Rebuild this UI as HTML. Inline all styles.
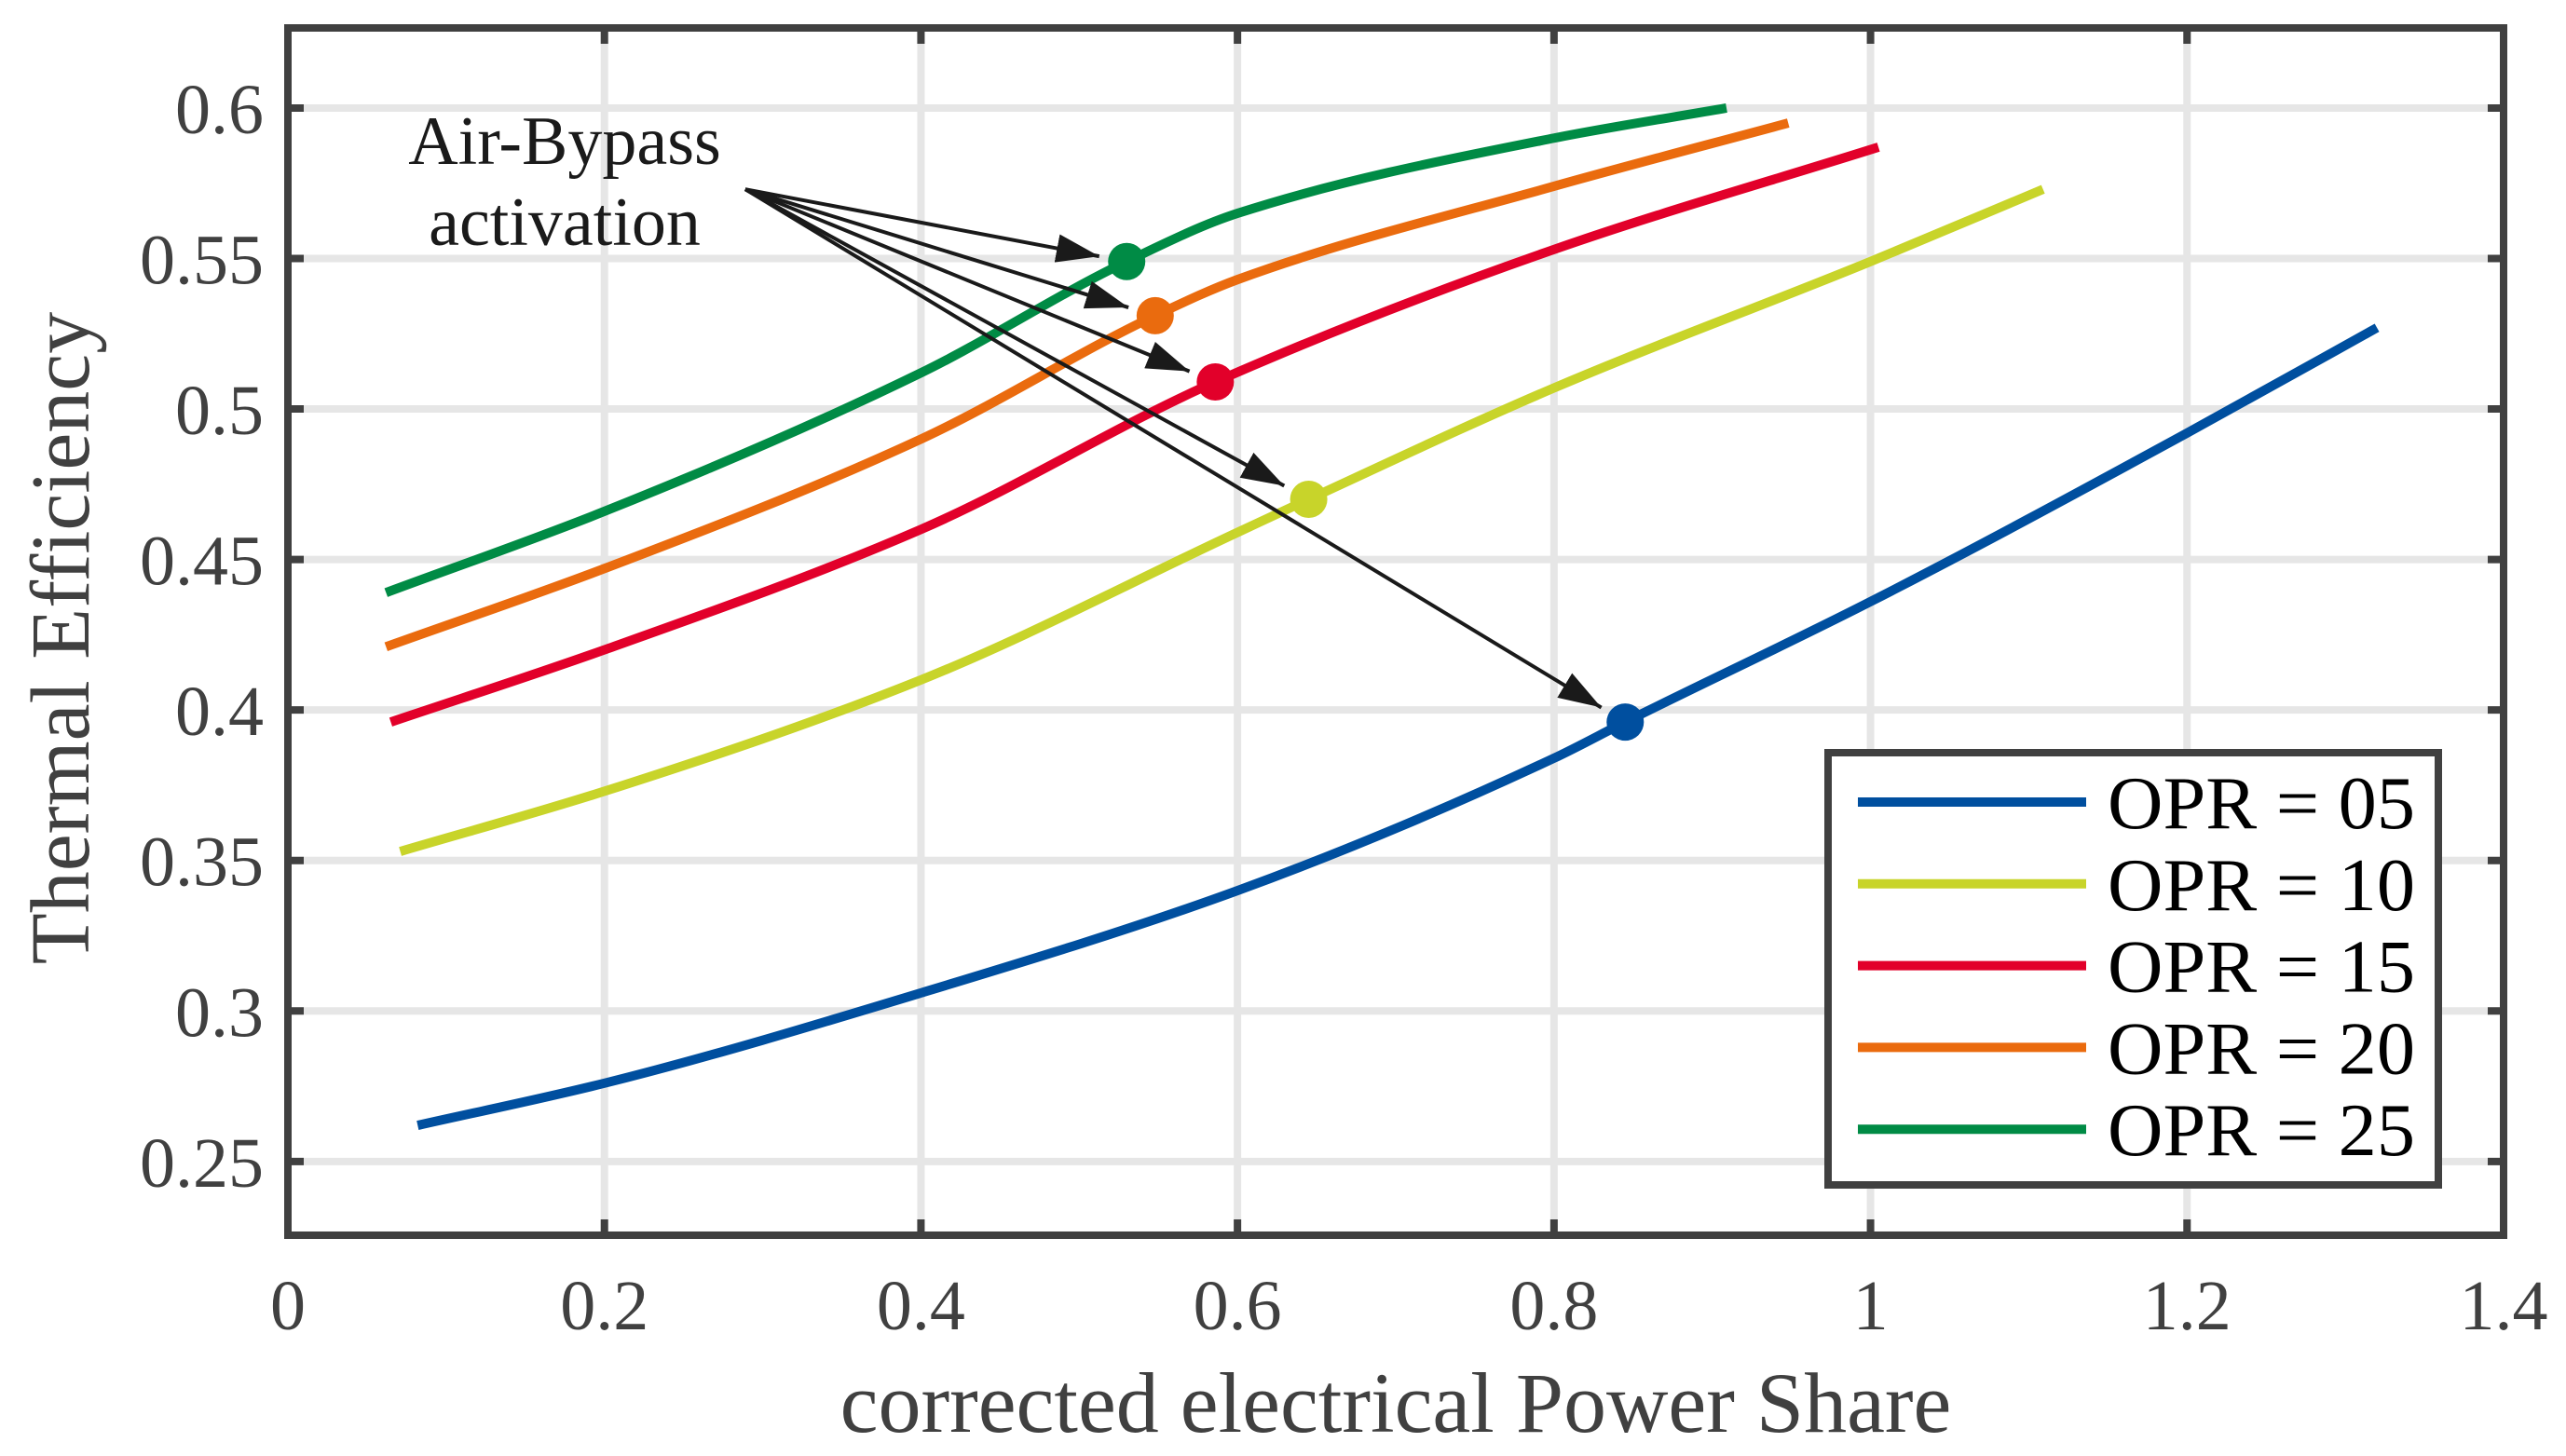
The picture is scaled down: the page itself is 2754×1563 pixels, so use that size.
<!DOCTYPE html>
<html><head><meta charset="utf-8"><style>
html,body{margin:0;padding:0;background:#fff}
svg{display:block}
text{font-family:"Liberation Serif",serif}
</style></head><body>
<svg id="chart" width="2754" height="1563" viewBox="0 0 2754 1563" xmlns="http://www.w3.org/2000/svg">
<g id="grid"></g>
<g id="series"></g>
<g id="arrows"></g>
<g id="axes"></g>
<g id="legend"></g>
<text x="606" y="176" font-size="74" text-anchor="middle" fill="#1a1a1a">Air-Bypass</text>
<text x="606" y="263" font-size="74" text-anchor="middle" fill="#1a1a1a">activation</text>
<text x="1498" y="1537" font-size="92" text-anchor="middle" fill="#404040">corrected electrical Power Share</text>
<text transform="translate(95,685) rotate(-90)" font-size="90" text-anchor="middle" fill="#404040">Thermal Efficiency</text>
</svg>
<script>
const xTicks = [0, 0.2, 0.4, 0.6, 0.8, 1, 1.2, 1.4];
const xTickLabels = ["0", "0.2", "0.4", "0.6", "0.8", "1", "1.2", "1.4"];
const yTicks = [0.25, 0.3, 0.35, 0.4, 0.45, 0.5, 0.55, 0.6];
const yTickLabels = ["0.25", "0.3", "0.35", "0.4", "0.45", "0.5", "0.55", "0.6"];
const seriesNames = ["OPR = 05", "OPR = 10", "OPR = 15", "OPR = 20", "OPR = 25"];
const seriesColors = ["#004f9f", "#c8d42a", "#e2002a", "#ea6b0e", "#008b45"];
const x05 = [0.082, 0.2, 0.4, 0.6, 0.8, 0.845, 1.0, 1.2, 1.32];
const y05 = [0.262, 0.276, 0.306, 0.340, 0.384, 0.396, 0.436, 0.492, 0.527];
const x10 = [0.071, 0.2, 0.4, 0.6, 0.645, 0.8, 1.0, 1.109];
const y10 = [0.353, 0.373, 0.41, 0.459, 0.470, 0.507, 0.549, 0.573];
const x15 = [0.065, 0.2, 0.4, 0.586, 0.8, 1.005];
const y15 = [0.396, 0.42, 0.46, 0.509, 0.553, 0.587];
const x20 = [0.062, 0.2, 0.4, 0.548, 0.6, 0.8, 0.948];
const y20 = [0.421, 0.447, 0.49, 0.531, 0.543, 0.574, 0.595];
const x25 = [0.062, 0.2, 0.4, 0.530, 0.6, 0.8, 0.909];
const y25 = [0.439, 0.466, 0.512, 0.549, 0.565, 0.590, 0.6];
const markerX = [0.845, 0.645, 0.586, 0.548, 0.530];
const markerY = [0.396, 0.470, 0.509, 0.531, 0.549];
const annotX = 0.289, annotY = 0.573;

const L=309,R=2687,T=30,B=1326;
const xMin=0,xMax=1.4,yMin=0.2255,yMax=0.6266;
const sx=v=>L+(v-xMin)/(xMax-xMin)*(R-L);
const sy=v=>B-(v-yMin)/(yMax-yMin)*(B-T);
const NS="http://www.w3.org/2000/svg";
function mk(tag,parent,attrs){const e=document.createElementNS(NS,tag);for(const k in attrs)e.setAttribute(k,attrs[k]);parent.appendChild(e);return e;}
const grid=document.getElementById('grid'),axes=document.getElementById('axes'),ser=document.getElementById('series'),arr=document.getElementById('arrows'),leg=document.getElementById('legend');
xTicks.forEach((t,i)=>{
  const g=mk('line',grid,{x1:sx(t),x2:sx(t),y1:T,y2:B,stroke:'#e6e6e6','stroke-width':8});
  
  
  const a=mk('line',axes,{x1:sx(t),x2:sx(t),y1:B,y2:B-17,stroke:'#404040','stroke-width':8});
  
  
  const a2=mk('line',axes,{x1:sx(t),x2:sx(t),y1:T,y2:T+17,stroke:'#404040','stroke-width':8});
  
  
  const tx=mk('text',axes,{x:sx(t),y:1427,'font-size':76,'text-anchor':'middle',fill:'#404040'});
  tx.textContent=xTickLabels[i];
  
  
});
yTicks.forEach((t,i)=>{
  const g=mk('line',grid,{x1:L,x2:R,y1:sy(t),y2:sy(t),stroke:'#e6e6e6','stroke-width':8});
  
  
  const a=mk('line',axes,{x1:L,x2:L+17,y1:sy(t),y2:sy(t),stroke:'#404040','stroke-width':8});
  
  
  const a2=mk('line',axes,{x1:R,x2:R-17,y1:sy(t),y2:sy(t),stroke:'#404040','stroke-width':8});
  
  
  const tx=mk('text',axes,{x:L-26,y:sy(t)+27,'font-size':76,'text-anchor':'end',fill:'#404040'});
  tx.textContent=yTickLabels[i];
  
  
});
const frame=mk('rect',axes,{x:L,y:T,width:R-L,height:B-T,fill:'none',stroke:'#404040','stroke-width':8});


// monotone cubic (Fritsch-Carlson) in x
function monotone(xs,ys){
  const n=xs.length,d=[],m=new Array(n);
  for(let i=0;i<n-1;i++)d.push((ys[i+1]-ys[i])/(xs[i+1]-xs[i]));
  m[0]=d[0];m[n-1]=d[n-2];
  for(let i=1;i<n-1;i++){
    if(d[i-1]*d[i]<=0){m[i]=0;continue;}
    const h0=xs[i]-xs[i-1],h1=xs[i+1]-xs[i];
    const w1=2*h1+h0,w2=h1+2*h0;
    m[i]=(w1+w2)/(w1/d[i-1]+w2/d[i]);
  }
  let p='M'+sx(xs[0])+','+sy(ys[0]);
  for(let i=0;i<n-1;i++){
    const h=xs[i+1]-xs[i];
    const c1x=xs[i]+h/3,c1y=ys[i]+m[i]*h/3;
    const c2x=xs[i+1]-h/3,c2y=ys[i+1]-m[i+1]*h/3;
    p+=' C'+sx(c1x)+','+sy(c1y)+' '+sx(c2x)+','+sy(c2y)+' '+sx(xs[i+1])+','+sy(ys[i+1]);
  }
  return p;
}
const XS=[x05,x10,x15,x20,x25],YS=[y05,y10,y15,y20,y25];
XS.forEach((xs,i)=>{
  const p=mk('path',ser,{d:monotone(xs,YS[i]),fill:'none',stroke:seriesColors[i],'stroke-width':10});
  
  
});
markerX.forEach((mx,i)=>{
  const c=mk('circle',ser,{cx:sx(mx),cy:sy(markerY[i]),r:20,fill:seriesColors[i]});
  
  
});
const defs=mk('defs',arr,{});
const m=mk('marker',defs,{id:'ah',viewBox:'0 0 15 10',refX:15,refY:5,markerWidth:46,markerHeight:32,markerUnits:'userSpaceOnUse',orient:'auto'});
mk('path',m,{d:'M0,0 L15,5 L0,10 z',fill:'#1a1a1a'});
const ax0=sx(annotX),ay0=sy(annotY);
markerX.forEach((mx,i)=>{
  const tx=sx(mx),ty=sy(markerY[i]);
  const dx=tx-ax0,dy=ty-ay0,len=Math.hypot(dx,dy),off=30;
  const l=mk('line',arr,{x1:ax0,y1:ay0,x2:tx-dx/len*off,y2:ty-dy/len*off,stroke:'#1a1a1a','stroke-width':4,'marker-end':'url(#ah)'});
  
  
});
const lb=mk('rect',leg,{x:1962,y:808,width:655,height:464,fill:'#fff',stroke:'#404040','stroke-width':8});


seriesNames.forEach((n,i)=>{
  const y=861+i*87.8;
  const ln=mk('line',leg,{x1:1994,x2:2239,y1:y,y2:y,stroke:seriesColors[i],'stroke-width':10});
  
  
  const t=mk('text',leg,{x:2262,y:y+28,'font-size':80,fill:'#000',textLength:330,lengthAdjust:'spacingAndGlyphs'});
  t.textContent=n;
  
  
});
</script>
</body></html>
